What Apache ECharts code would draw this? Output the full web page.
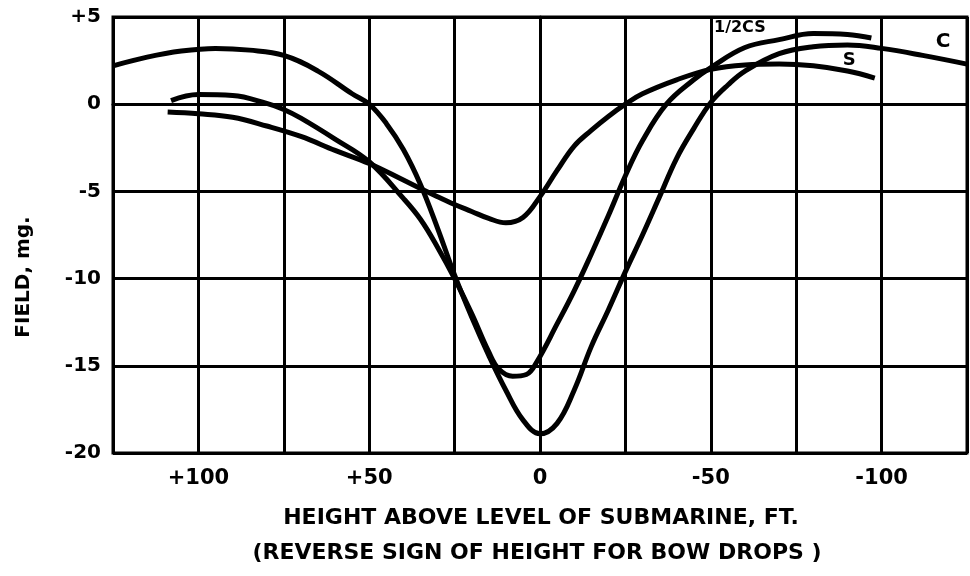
<!DOCTYPE html>
<html>
<head>
<meta charset="utf-8">
<script src="https://cdn.jsdelivr.net/npm/echarts@6/dist/echarts.min.js"></script>
<style>
    html, body {margin: 0; padding: 0; background: #fff;}
    #chart {width: 970px; height: 576px;}
</style>
</head>
<body>
<div id="chart"></div>
<script>
// curve C
var cHeight = [125, 115, 105, 95, 85, 75, 65, 55, 50, 45, 40, 35, 30, 25, 20, 15, 10, 5, 0, -5, -10, -15, -20, -25, -30, -35, -40, -45, -50, -55, -60, -70, -80, -90, -100, -112, -125];
var cField = [2.2, 2.7, 3.05, 3.2, 3.1, 2.8, 1.9, 0.6, 0, -1.1, -2.6, -4.6, -7.1, -9.8, -12.2, -14.4, -16.4, -18.1, -18.9, -18.3, -16.4, -13.9, -11.8, -9.6, -7.5, -5.3, -3.1, -1.4, 0.1, 1.1, 1.9, 2.9, 3.3, 3.4, 3.2, 2.8, 2.3];
// curve S
var sHeight = [109, 100, 90, 80, 70, 60, 50, 40, 30, 25, 20, 15, 10, 5, 0, -5, -10, -15, -20, -25, -30, -40, -50, -60, -70, -80, -90, -98];
var sField = [-0.45, -0.55, -0.75, -1.25, -1.85, -2.65, -3.4, -4.35, -5.3, -5.75, -6.15, -6.55, -6.8, -6.5, -5.3, -3.8, -2.4, -1.5, -0.7, 0, 0.6, 1.4, 2.0, 2.25, 2.3, 2.2, 1.9, 1.5];
// curve 1/2CS
var hHeight = [108, 100, 90, 80, 75, 70, 60, 50, 40, 35, 30, 25, 20, 15, 12, 8, 4, 1, -5, -10, -15, -20, -25, -30, -37, -45, -50, -60, -70, -80, -90, -97];
var hField = [0.2, 0.55, 0.5, 0.05, -0.3, -0.8, -2.0, -3.3, -5.4, -6.6, -8.2, -10, -12, -14.2, -15.2, -15.6, -15.5, -14.8, -12.6, -10.7, -8.6, -6.4, -4.1, -2.1, 0, 1.4, 2.1, 3.25, 3.7, 4.05, 4.0, 3.8];

// tick labels
var xLabels = {'100': '+100', '50': '+50', '0': '0', '-50': '-50', '-100': '-100'};
var yLabels = {'5': '+5', '0': '0', '-5': '-5', '-10': '-10', '-15': '-15', '-20': '-20'};

// curve names and where their names are written
var curveNames = ['C', 'S', '1/2CS'];
var nameAt = [[-118, 3.6], [-90.5, 2.5], [-58.5, 4.4]];

var font = 'DejaVu Sans';

function pairs(xs, ys) {
    var out = [];
    for (var i = 0; i < xs.length; i++) {
        out.push([xs[i], ys[i]]);
    }
    return out;
}

function curve(name, xs, ys, at, size) {
    return {
        name: name,
        type: 'line',
        smooth: 0.4,
        showSymbol: false,
        symbol: 'none',
        lineStyle: {color: '#000', width: 5},
        data: pairs(xs, ys),
        markPoint: {
            symbolSize: 0,
            data: [{coord: at}],
            label: {
                show: true,
                position: 'inside',
                formatter: name,
                color: '#000',
                fontFamily: font,
                fontWeight: 'bold',
                fontSize: size
            }
        }
    };
}

var myChart = echarts.init(document.getElementById('chart'));
var option = {
    backgroundColor: '#fff',
    animation: false,
    grid: {
        left: 113,
        right: 2,
        top: 17,
        bottom: 123,
        show: true,
        borderColor: '#000',
        borderWidth: 3
    },
    xAxis: {
        type: 'value',
        inverse: true,
        min: -125,
        max: 125,
        interval: 25,
        axisLine: {show: true, lineStyle: {color: '#000', width: 3}},
        axisTick: {show: false},
        splitLine: {show: true, lineStyle: {color: '#000', width: 3}},
        axisLabel: {
            margin: 15,
            color: '#000',
            fontFamily: font,
            fontWeight: 'bold',
            fontSize: 21,
            formatter: function (v) {
                return xLabels[String(v)] || '';
            }
        }
    },
    yAxis: {
        type: 'value',
        min: -20,
        max: 5,
        interval: 5,
        axisLine: {show: true, lineStyle: {color: '#000', width: 3}},
        axisTick: {show: false},
        splitLine: {show: true, lineStyle: {color: '#000', width: 3}},
        axisLabel: {
            margin: 12,
            color: '#000',
            fontFamily: font,
            fontWeight: 'bold',
            fontSize: 20,
            formatter: function (v) {
                return yLabels[String(v)] || '';
            }
        }
    },
    graphic: [
        {
            type: 'text',
            x: 24,
            y: 277,
            rotation: Math.PI / 2,
            style: {
                text: 'FIELD, mg.',
                fill: '#000',
                font: 'bold 20px "DejaVu Sans"',
                align: 'center',
                verticalAlign: 'middle'
            }
        },
        {
            type: 'text',
            x: 541,
            y: 518,
            style: {
                text: 'HEIGHT ABOVE LEVEL OF SUBMARINE, FT.',
                fill: '#000',
                font: 'bold 22px "DejaVu Sans"',
                align: 'center',
                verticalAlign: 'middle'
            }
        },
        {
            type: 'text',
            x: 537,
            y: 553,
            style: {
                text: '(REVERSE SIGN OF HEIGHT FOR BOW DROPS )',
                fill: '#000',
                font: 'bold 22px "DejaVu Sans"',
                align: 'center',
                verticalAlign: 'middle'
            }
        }
    ],
    series: [
        curve(curveNames[0], cHeight, cField, nameAt[0], 20),
        curve(curveNames[1], sHeight, sField, nameAt[1], 18),
        curve(curveNames[2], hHeight, hField, nameAt[2], 16)
    ]
};
myChart.setOption(option);   //加载数据
</script>
</body>
</html>
